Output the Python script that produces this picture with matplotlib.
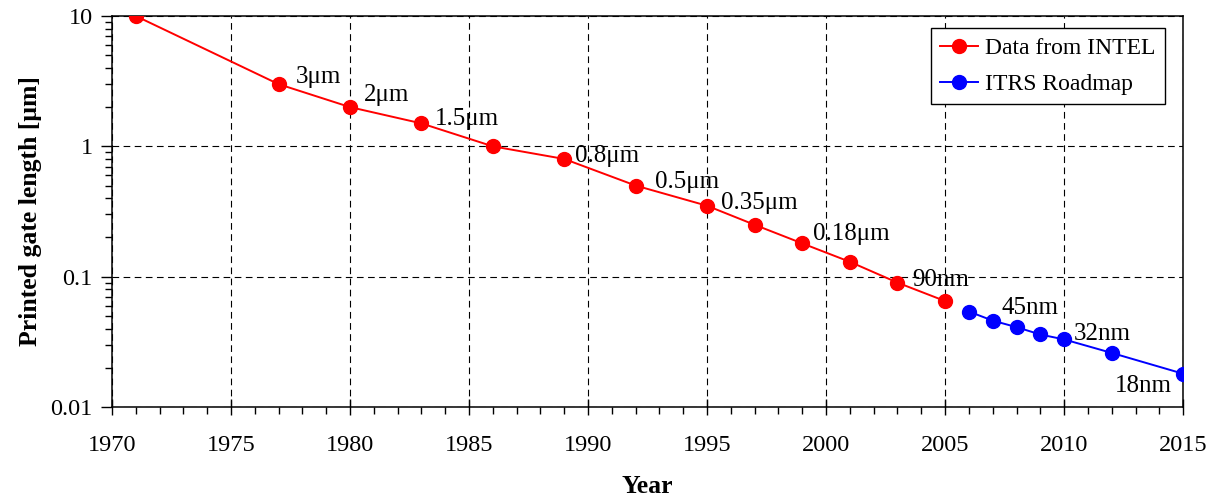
import matplotlib
matplotlib.use("Agg")
import matplotlib.pyplot as plt
from matplotlib.ticker import FixedLocator, FuncFormatter, MultipleLocator, LogLocator

plt.rcParams['font.family'] = ['Liberation Serif', 'DejaVu Serif']

# Data
intel_years = [1971, 1977, 1980, 1983, 1986, 1989, 1992, 1995, 1997, 1999, 2001, 2003, 2005]
intel_gate = [10, 3.0, 2.0, 1.5, 1.0, 0.8, 0.5, 0.35, 0.25, 0.18, 0.13, 0.09, 0.065]
itrs_years = [2006, 2007, 2008, 2009, 2010, 2012, 2015]
itrs_gate = [0.054, 0.046, 0.041, 0.036, 0.033, 0.026, 0.018]

node_labels = ['3μm', '2μm', '1.5μm', '0.8μm', '0.5μm', '0.35μm', '0.18μm',
               '90nm', '45nm', '32nm', '18nm']
node_years = [1977, 1980, 1983, 1989, 1992, 1995, 1999, 2003, 2007, 2010, 2015]
# label offsets in pixels (dx, dy) and alignment
label_offsets = [(17, 7), (14, 12), (13, 4), (11, 3), (19, 4), (14, 3), (11, 9),
                 (15, 3), (9, 13), (10, 5), (-11, -12)]
label_ha = ['left'] * 10 + ['right']

fig = plt.figure(figsize=(12.09, 5.0), dpi=100)
ax = fig.add_axes([0.0926, 0.186, 0.886, 0.782])

ax.plot(intel_years, intel_gate, color='#ff0000', lw=1.4, marker='o', ms=10,
        label='Data from INTEL', zorder=3)
ax.plot(itrs_years, itrs_gate, color='#0000ff', lw=1.4, marker='o', ms=10,
        label='ITRS Roadmap', zorder=3)

all_years = intel_years + itrs_years
all_gate = intel_gate + itrs_gate
for lab, yr, (dx, dy), ha in zip(node_labels, node_years, label_offsets, label_ha):
    val = all_gate[all_years.index(yr)]
    ax.annotate(lab, xy=(yr, val), xytext=(dx, dy), textcoords='offset pixels',
                ha=ha, va='center', fontsize=18)

ax.set_yscale('log')
ax.set_xlim(1970, 2015)
ax.set_ylim(0.01, 10)
ax.xaxis.set_major_locator(MultipleLocator(5))
ax.xaxis.set_minor_locator(MultipleLocator(1))
ax.yaxis.set_major_locator(FixedLocator([0.01, 0.1, 1, 10]))
ax.yaxis.set_minor_locator(LogLocator(base=10, subs=range(2, 10)))
ax.yaxis.set_major_formatter(FuncFormatter(lambda v, p: '%g' % v))
ax.yaxis.set_minor_formatter(FuncFormatter(lambda v, p: ''))

ax.tick_params(axis='x', which='major', direction='inout', length=12, width=1,
               labelsize=17.5, pad=14)
ax.tick_params(axis='x', which='minor', direction='out', length=5, width=1)
ax.tick_params(axis='y', which='major', direction='out', length=8, width=1,
               labelsize=17.5, pad=6)
ax.tick_params(axis='y', which='minor', direction='out', length=5, width=1)

ax.grid(True, which='major', color='black', linestyle=(0, (6, 4)), lw=0.8)
for s in ax.spines.values():
    s.set_linewidth(1.1)

ax.set_xlabel('Year', fontsize=18.5, fontweight='bold', labelpad=14)
ax.set_ylabel('Printed gate length [μm]', fontsize=18.5, fontweight='bold', labelpad=6)

leg = ax.legend(loc='upper right', bbox_to_anchor=(0.983, 0.969), fontsize=17,
                fancybox=False, framealpha=1, edgecolor='black',
                handlelength=1.6, borderpad=0.4, labelspacing=0.6,
                handletextpad=0.3, borderaxespad=0)
leg.get_frame().set_linewidth(1.0)

fig.savefig('out.png', dpi=100)
